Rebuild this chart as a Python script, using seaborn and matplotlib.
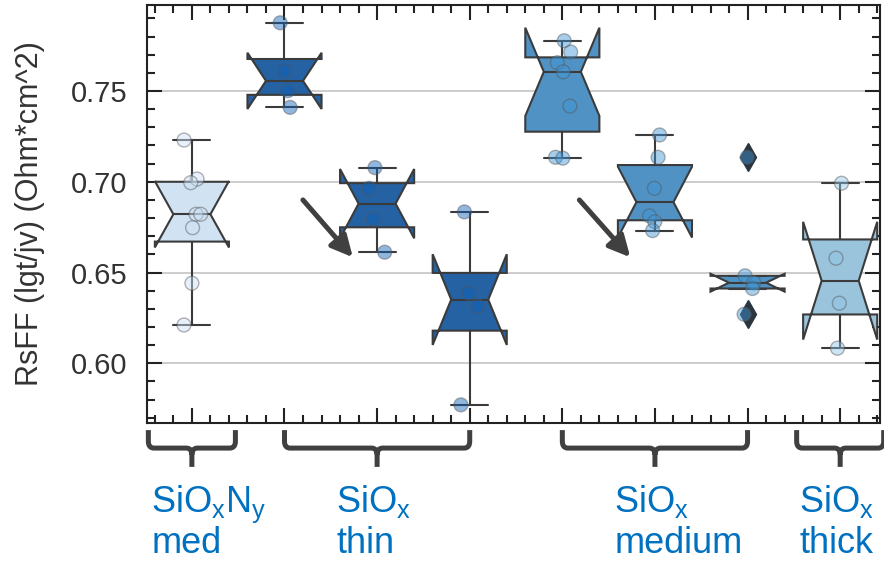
import numpy as np
import pandas as pd
import matplotlib
matplotlib.use("Agg")
import matplotlib.pyplot as plt
import matplotlib.transforms as mtransforms
from matplotlib.path import Path
from matplotlib.patches import PathPatch
from matplotlib.ticker import MultipleLocator, FormatStrFormatter
import seaborn as sns

# ---- data -------------------------------------------------------------
samples = ["SiOxNy med", "SiOx thin 1", "SiOx thin 2", "SiOx thin 3",
           "SiOx medium 1", "SiOx medium 2", "SiOx medium 3", "SiOx thick"]

rsff_sioxny_med = [0.7230, 0.7015, 0.6995, 0.6821, 0.6821, 0.6747, 0.6441, 0.6211]
rsff_thin_1 = [0.7876, 0.7610, 0.7502, 0.7410]
rsff_thin_2 = [0.7078, 0.6964, 0.6795, 0.6612]
rsff_thin_3 = [0.6834, 0.6386, 0.6316, 0.5771]
rsff_medium_1 = [0.7777, 0.7715, 0.7656, 0.7606, 0.7417, 0.7135, 0.7130]
rsff_medium_2 = [0.7258, 0.7135, 0.6964, 0.6812, 0.6780, 0.6731]
rsff_medium_3 = [0.7135, 0.6482, 0.6444, 0.6412, 0.6270]
rsff_thick = [0.6992, 0.6579, 0.6331, 0.6083]

series = [rsff_sioxny_med, rsff_thin_1, rsff_thin_2, rsff_thin_3,
          rsff_medium_1, rsff_medium_2, rsff_medium_3, rsff_thick]

# groups of samples shown under the axis (first index, last index)
group_names = [r"SiO$_\mathregular{x}$N$_\mathregular{y}$", r"SiO$_\mathregular{x}$",
               r"SiO$_\mathregular{x}$", r"SiO$_\mathregular{x}$"]
group_sizes = ["med", "thin", "medium", "thick"]
group_spans = [(0, 0), (1, 3), (4, 6), (7, 7)]

palette = ["#cce2f7", "#0f61b9", "#0f61b9", "#0f61b9",
           "#3d95d7", "#3d95d7", "#3d95d7", "#8fc6e7"]

df = pd.DataFrame({
    "sample": np.repeat(samples, [len(s) for s in series]),
    "RsFF": np.concatenate(series),
})

# ---- style ------------------------------------------------------------
sns.set_theme(style="ticks")
plt.rcParams["font.family"] = ["Liberation Sans", "DejaVu Sans"]
plt.rcParams["mathtext.fontset"] = "custom"
plt.rcParams["mathtext.rm"] = "Liberation Sans"
plt.rcParams["mathtext.it"] = "Liberation Sans:italic"
plt.rcParams["mathtext.bf"] = "Liberation Sans:bold"

line_gray = "#3b3b3b"
dark = "#404040"
label_blue = "#0070c0"

fig = plt.figure(figsize=(8.84, 5.63), dpi=100)
ax = fig.add_axes([146.5 / 884, 1 - 423 / 563, (880 - 146.5) / 884, (423 - 5) / 563])

sns.boxplot(data=df, x="sample", y="RsFF", hue="sample", order=samples,
            hue_order=samples, palette=palette, notch=True, width=0.8,
            dodge=False, linecolor=line_gray, linewidth=1.5, fliersize=14,
            flierprops=dict(marker="d", markerfacecolor="#2b3540",
                            markeredgecolor="#2b3540"),
            legend=False, ax=ax)

np.random.seed(7)
sns.stripplot(data=df, x="sample", y="RsFF", hue="sample", order=samples,
              hue_order=samples, palette=palette, dodge=False, jitter=0.1,
              size=10, alpha=0.45, linewidth=1, edgecolor="#555555",
              legend=False, ax=ax)

# ---- axes -------------------------------------------------------------
ax.set_xlim(-0.49, 7.43)
ax.set_ylim(0.5671, 0.7974)
ax.set_xlabel("")
ax.set_ylabel("RsFF (lgt/jv) (Ohm*cm^2)", fontsize=22, color="#333333")
ax.yaxis.set_label_coords(-0.138, 0.5)

ax.yaxis.set_major_locator(MultipleLocator(0.05))
ax.yaxis.set_minor_locator(MultipleLocator(0.01))
ax.yaxis.set_major_formatter(FormatStrFormatter("%.2f"))
ax.xaxis.set_major_locator(MultipleLocator(1))
ax.xaxis.set_minor_locator(MultipleLocator(0.2))

ax.tick_params(which="both", direction="in", top=True, right=True,
               color="#222222", width=1.5)
ax.tick_params(which="major", length=11)
ax.tick_params(which="minor", length=5.5)
ax.tick_params(axis="x", labelbottom=False)
ax.tick_params(axis="y", labelsize=21, labelcolor="#333333", pad=14)

ax.yaxis.grid(True, which="major", color="#cccccc", lw=1.4)
ax.xaxis.grid(False)
ax.set_axisbelow(True)
for sp in ax.spines.values():
    sp.set_color("#222222")
    sp.set_linewidth(1.5)

# ---- arrows -----------------------------------------------------------
for tail, tip in [((1.199, 0.6900), (1.738, 0.6584)),
                  ((4.184, 0.6900), (4.734, 0.6584))]:
    ax.annotate("", xy=tip, xytext=tail,
                arrowprops=dict(arrowstyle="-|>", color=dark, lw=3.6,
                                mutation_scale=32, shrinkA=0, shrinkB=0))

# ---- group brackets and labels ---------------------------------------
trans = mtransforms.blended_transform_factory(ax.transData, ax.transAxes)


def draw_bracket(x0, x1, xc):
    y_top, y_h, y_bot = -0.017, -0.060, -0.105
    rx, ry = 0.06, 0.016
    verts = [(x0, y_top), (x0, y_h + ry), (x0, y_h), (x0 + rx, y_h),
             (xc - rx, y_h), (xc, y_h), (xc, y_h - ry), (xc, y_bot),
             (x1, y_top), (x1, y_h + ry), (x1, y_h), (x1 - rx, y_h),
             (xc + rx, y_h), (xc, y_h), (xc, y_h - ry)]
    codes = [Path.MOVETO, Path.LINETO, Path.CURVE3, Path.CURVE3,
             Path.LINETO, Path.CURVE3, Path.CURVE3, Path.LINETO,
             Path.MOVETO, Path.LINETO, Path.CURVE3, Path.CURVE3,
             Path.LINETO, Path.CURVE3, Path.CURVE3]
    ax.add_patch(PathPatch(Path(verts, codes), transform=trans, fill=False,
                           lw=3.6, edgecolor=dark, capstyle="butt",
                           joinstyle="round", clip_on=False))


for name, size, (first, last) in zip(group_names, group_sizes, group_spans):
    xc = (first + last) / 2
    if first == last:
        x0, x1 = xc - 0.47, xc + 0.47
    else:
        x0, x1 = first, last
    draw_bracket(x0, x1, xc)
    ax.text(xc - 0.44, -0.212, name, transform=trans, ha="left",
            va="baseline", fontsize=26, color=label_blue, clip_on=False)
    ax.text(xc - 0.44, -0.312, size, transform=trans, ha="left",
            va="baseline", fontsize=26, color=label_blue, clip_on=False)

fig.savefig("out.png", dpi=100)
